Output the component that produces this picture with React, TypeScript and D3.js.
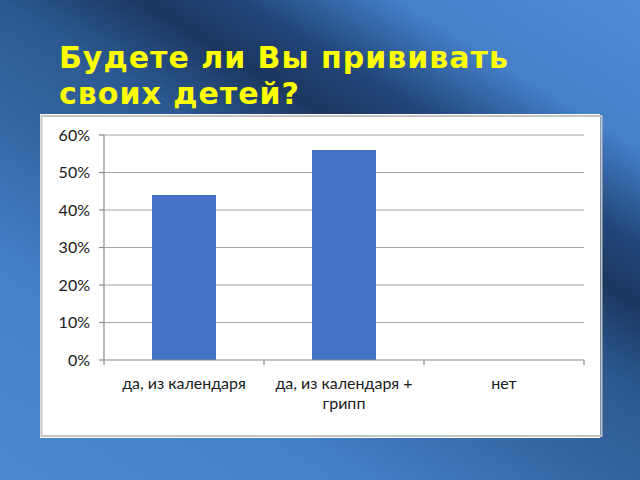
import React from "react";
import * as d3 from "d3";

const categories = ["да, из календаря", "да, из календаря + грипп", "нет"];
const categoryLines = [["да, из календаря"], ["да, из календаря +", "грипп"], ["нет"]];
const values = [0.44, 0.56, 0];
const yTicks = [0, 0.1, 0.2, 0.3, 0.4, 0.5, 0.6];
const titleLines = ["Будете ли Вы прививать", "своих детей?"];

const W = 640;
const H = 480;
const plot = { left: 104, right: 584, top: 135, bottom: 360 };

export default function App() {
  const x = d3
    .scaleBand<string>()
    .domain(categories)
    .range([plot.left, plot.right])
    .paddingInner(0)
    .paddingOuter(0);
  const y = d3.scaleLinear().domain([0, 0.6]).range([plot.bottom, plot.top]);
  const barW = x.bandwidth() * 0.4;
  const fmt = d3.format(".0%");
  const font = "Lato, 'Open Sans', sans-serif";

  return (
    <svg
      width={W}
      height={H}
      style={{ position: "absolute", left: 0, top: 0, display: "block" }}
    >
      <defs>
        <linearGradient id="bg" x1="0" y1="480" x2="389" y2="-154" gradientUnits="userSpaceOnUse">
          <stop offset="0" stopColor="#4a88d0" />
          <stop offset="0.25" stopColor="#4580c6" />
          <stop offset="0.42" stopColor="#3566a2" />
          <stop offset="0.55" stopColor="#2b5890" />
          <stop offset="0.65" stopColor="#1b375f" />
          <stop offset="0.72" stopColor="#22467a" />
          <stop offset="0.83" stopColor="#4580c8" />
          <stop offset="1" stopColor="#4e8dd6" />
        </linearGradient>
      </defs>
      <rect x={0} y={0} width={W} height={H} fill="url(#bg)" />

      {titleLines.map((t, i) => (
        <text
          key={i}
          x={59}
          y={68 + i * 36}
          fill="#ffff00"
          fontFamily="'DejaVu Sans', sans-serif"
          fontWeight="bold"
          fontSize={30}
          letterSpacing={1}
        >
          {t}
        </text>
      ))}

      <rect x={40} y={114} width={560} height={324} fill="#ffffff" />
      <rect x={41.5} y={116} width={560} height={320} fill="none" stroke="#c4c4c4" strokeWidth={2} />

      {yTicks.map((t) => (
        <g key={t}>
          {t > 0 && (
            <line x1={plot.left} x2={plot.right} y1={y(t)} y2={y(t)} stroke="#a6a6a6" strokeWidth={1.2} />
          )}
          <line x1={plot.left - 5} x2={plot.left} y1={y(t)} y2={y(t)} stroke="#8c8c8c" strokeWidth={1.2} />
          <text
            x={90}
            y={y(t) + 5.5}
            textAnchor="end"
            fontFamily={font}
            fontSize={16}
            fill="#1a1a1a"
          >
            {fmt(t)}
          </text>
        </g>
      ))}

      {categories.map((c, i) => (
        <rect
          key={c}
          x={(x(c) as number) + (x.bandwidth() - barW) / 2}
          y={y(values[i])}
          width={barW}
          height={plot.bottom - y(values[i])}
          fill="#4472c4"
        />
      ))}

      <line x1={plot.left} x2={plot.left} y1={plot.top} y2={plot.bottom} stroke="#8c8c8c" strokeWidth={1.2} />
      <line x1={plot.left} x2={plot.right} y1={plot.bottom} y2={plot.bottom} stroke="#8c8c8c" strokeWidth={1.2} />
      {[...categories.map((c) => x(c) as number), plot.right].map((px, i) => (
        <line key={i} x1={px} x2={px} y1={plot.bottom} y2={plot.bottom + 5} stroke="#8c8c8c" strokeWidth={1.2} />
      ))}

      {categories.map((c, i) => (
        <text
          key={c}
          x={(x(c) as number) + x.bandwidth() / 2}
          textAnchor="middle"
          fontFamily={font}
          fontSize={16}
          fill="#1a1a1a"
        >
          {categoryLines[i].map((l, j) => (
            <tspan key={j} x={(x(c) as number) + x.bandwidth() / 2} y={389 + j * 20}>
              {l}
            </tspan>
          ))}
        </text>
      ))}
    </svg>
  );
}
